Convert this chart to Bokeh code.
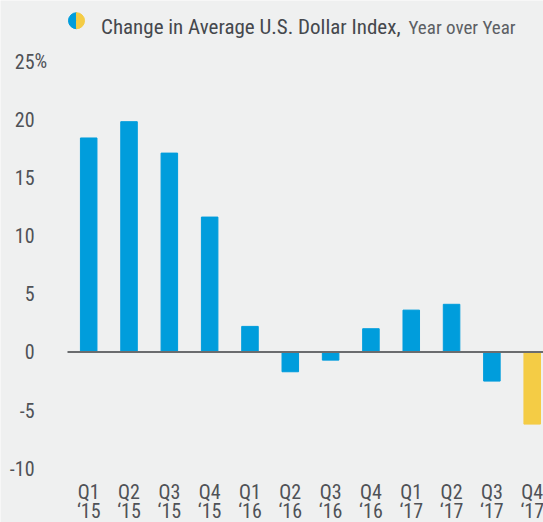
from bokeh.plotting import figure
from bokeh.models import ColumnDataSource, Range1d, Label
from bokeh.core.properties import value
from bokeh.embed import file_html
from bokeh.resources import INLINE

# ---- data ----
quarters = ["Q1", "Q2", "Q3", "Q4", "Q1", "Q2", "Q3", "Q4", "Q1", "Q2", "Q3", "Q4"]
years = ["\u201815", "\u201815", "\u201815", "\u201815",
         "\u201816", "\u201816", "\u201816", "\u201816",
         "\u201817", "\u201817", "\u201817", "\u201817"]
changes = [18.4, 19.8, 17.1, 11.6, 2.2, -1.7, -0.7, 2.0, 3.6, 4.1, -2.5, -6.2]
y_ticks = [25, 20, 15, 10, 5, 0, -5, -10]
y_tick_labels = ["25", "20", "15", "10", "5", "0", "-5", "-10"]

BG = "#eff0f0"
BLUE = "#009ddc"
YELLOW = "#f4cc45"
TXT = "#4f5257"
FONT = "Roboto Condensed"
FS = "20px"

idx = list(range(len(changes)))
colors = [BLUE] * (len(changes) - 1) + [YELLOW]

p = figure(width=543, height=522, output_backend="svg", toolbar_location=None,
           x_range=Range1d(-2.1875, 11.280), y_range=Range1d(-14.66, 30.22),
           min_border=0, background_fill_color=BG, border_fill_color=BG,
           outline_line_color=None)
p.axis.visible = False
p.grid.visible = False

src = ColumnDataSource(dict(x=idx, top=changes, color=colors, q=quarters, yr=years))
p.vbar(x="x", top="top", bottom=0, width=0.41, color="color", source=src)

# zero line
p.segment(x0=[-0.526], x1=[11.4], y0=[0], y1=[0], line_color="#6a6c6e", line_width=2)

# y tick labels
tsrc = ColumnDataSource(dict(y=y_ticks, t=y_tick_labels, x=[-1.344] * len(y_ticks)))
p.text(x="x", y="y", text="t", source=tsrc, text_align="right", text_baseline="middle",
       text_font=value(FONT), text_font_size=FS, text_color=TXT)
p.text(x=[-1.344], y=[y_ticks[0]], text=["%"], text_align="left", text_baseline="middle",
       text_font=value(FONT), text_font_size=FS, text_color=TXT)

# x labels
p.text(x="x", y=-12.0, text="q", source=src, text_align="center", text_baseline="middle",
       text_font=value(FONT), text_font_size=FS, text_color=TXT)
p.text(x="x", y=-13.66, text="yr", source=src, text_align="center", text_baseline="middle",
       text_font=value(FONT), text_font_size=FS, text_color=TXT)

# legend marker (half blue / half yellow)
p.wedge(x=[-0.3026], y=[28.48], radius=8, radius_units="screen",
        start_angle=90, end_angle=270, start_angle_units="deg", end_angle_units="deg",
        color=BLUE)
p.wedge(x=[-0.3026], y=[28.48], radius=8, radius_units="screen",
        start_angle=-90, end_angle=90, start_angle_units="deg", end_angle_units="deg",
        color=YELLOW)

# title
p.add_layout(Label(x=100.5, y=495.5, x_units="screen", y_units="screen",
                   text="Change in Average U.S. Dollar Index,",
                   text_font=FONT, text_font_size="21px",
                   text_color="#45484d", text_baseline="alphabetic"))
p.add_layout(Label(x=408, y=495.5, x_units="screen", y_units="screen",
                   text="Year over Year",
                   text_font=FONT, text_font_size="19px", text_color="#5c5f64",
                   text_baseline="alphabetic"))

html = file_html(p, INLINE)
html = html.replace("<body>", '<body style="background:%s;">' % BG, 1)
open("out.html", "w").write(html)
